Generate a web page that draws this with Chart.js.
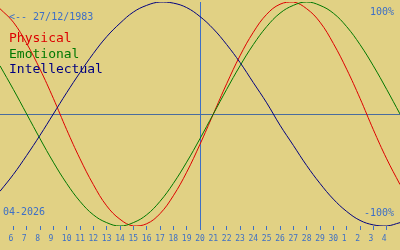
<!DOCTYPE html>
<html>
<head>
<meta charset="utf-8">
<script src="https://cdn.jsdelivr.net/npm/chart.js@4/dist/chart.umd.min.js"></script>
<style>
  html, body { margin: 0; padding: 0; background: #e1d184; }
  #wrap { position: relative; width: 400px; height: 250px; overflow: hidden; background: #e1d184; }
  canvas { position: absolute; left: 0; top: 0; }
  .t { position: absolute; font-family: "DejaVu Sans Mono", monospace; white-space: pre; margin: 0; }
  .s10 { font-size: 10px; line-height: 10px; color: #3d6fc6; }
  .s13 { font-size: 13px; line-height: 13px; }
</style>
</head>
<body>
<div id="wrap">
  <canvas id="c" width="400" height="250"></canvas>
  <div class="t s10" style="left:9px; top:12px;">&lt;-- 27/12/1983</div>
  <div class="t s13" style="left:9px; top:31px; color:#dd0000;">Physical</div>
  <div class="t s13" style="left:9px; top:47px; color:#007800;">Emotional</div>
  <div class="t s13" style="left:9px; top:62px; color:#000080;">Intellectual</div>
  <div class="t s10" style="left:370px; top:7px;">100%</div>
  <div class="t s10" style="left:3px; top:207px;">04-2026</div>
  <div class="t s10" style="left:364px; top:208px;">-100%</div>
</div>
<script>
// Day positions (day 20 = current date, 31..35 = 1..5 of next month)
const days = [5,6,7,8,9,10,11,12,13,14,15,16,17,18,19,20,21,22,23,24,25,26,27,28,29,30,31,32,33,34,35];
// Values (percent)
const physical     = [94,82,63,40,14,-14,-40,-63,-82,-94,-100,-98,-89,-73,-52,-27,0,27,52,73,89,98,100,94,82,63,40,14,-14,-40,-63];
const emotional    = [43,22,0,-22,-43,-62,-78,-90,-97,-100,-97,-90,-78,-62,-43,-22,0,22,43,62,78,90,97,100,97,90,78,62,43,22,0];
const intellectual = [-69,-54,-37,-19,0,19,37,54,69,81,91,97,100,99,95,87,76,62,46,28,10,-10,-28,-46,-62,-76,-87,-95,-99,-100,-97];
// Tick positions and labels
const tickDays   = [6,7,8,9,10,11,12,13,14,15,16,17,18,19,20,21,22,23,24,25,26,27,28,29,30,31,32,33,34];
const tickLabels = ['6','7','8','9','10','11','12','13','14','15','16','17','18','19','20','21','22','23','24','25','26','27','28','29','30','1','2','3','4'];
const todayDay = 20;

const BLUE = '#3d6fc6';
const mk = (arr) => days.map((d, i) => ({x: d, y: arr[i]}));

new Chart(document.getElementById('c'), {
  type: 'line',
  data: {
    datasets: [
      { label: 'Intellectual', data: mk(intellectual), borderColor: '#000080' },
      { label: 'Emotional', data: mk(emotional), borderColor: '#007800' },
      { label: 'Physical', data: mk(physical), borderColor: '#dd0000' }
    ]
  },
  options: {
    responsive: false,
    animation: false,
    devicePixelRatio: 1,
    layout: { padding: { top: 2, left: 0, right: 0, bottom: 0 } },
    elements: {
      line: { borderWidth: 1, tension: 0.4, fill: false },
      point: { radius: 0 }
    },
    plugins: { legend: { display: false }, tooltip: { enabled: false } },
    scales: {
      x: {
        type: 'linear',
        min: days[0],
        max: days[days.length - 1],
        afterBuildTicks: (axis) => { axis.ticks = tickDays.map(v => ({ value: v })); },
        afterFit: (axis) => { axis.height = 24; },
        border: { display: false },
        grid: {
          drawOnChartArea: true,
          drawTicks: true,
          tickLength: 4,
          color: (ctx) => (ctx.tick && ctx.tick.value === todayDay) ? BLUE : 'rgba(0,0,0,0)',
          tickColor: BLUE,
          lineWidth: 1
        },
        ticks: {
          autoSkip: false,
          maxRotation: 0,
          minRotation: 0,
          padding: 4,
          color: BLUE,
          font: { family: 'DejaVu Sans Mono', size: 8 },
          callback: function (value) {
            const i = tickDays.indexOf(value);
            if (i < 0) return '';
            const s = tickLabels[i];
            return s.length === 1 ? s + ' ' : s;
          }
        }
      },
      y: {
        min: -100,
        max: 100,
        afterBuildTicks: (axis) => { axis.ticks = [{ value: 0 }]; },
        afterFit: (axis) => { axis.width = 0; },
        border: { display: false },
        ticks: { display: false },
        grid: { drawTicks: false, color: '#4a6c9e', lineWidth: 1 }
      }
    }
  }
});
</script>
</body>
</html>
